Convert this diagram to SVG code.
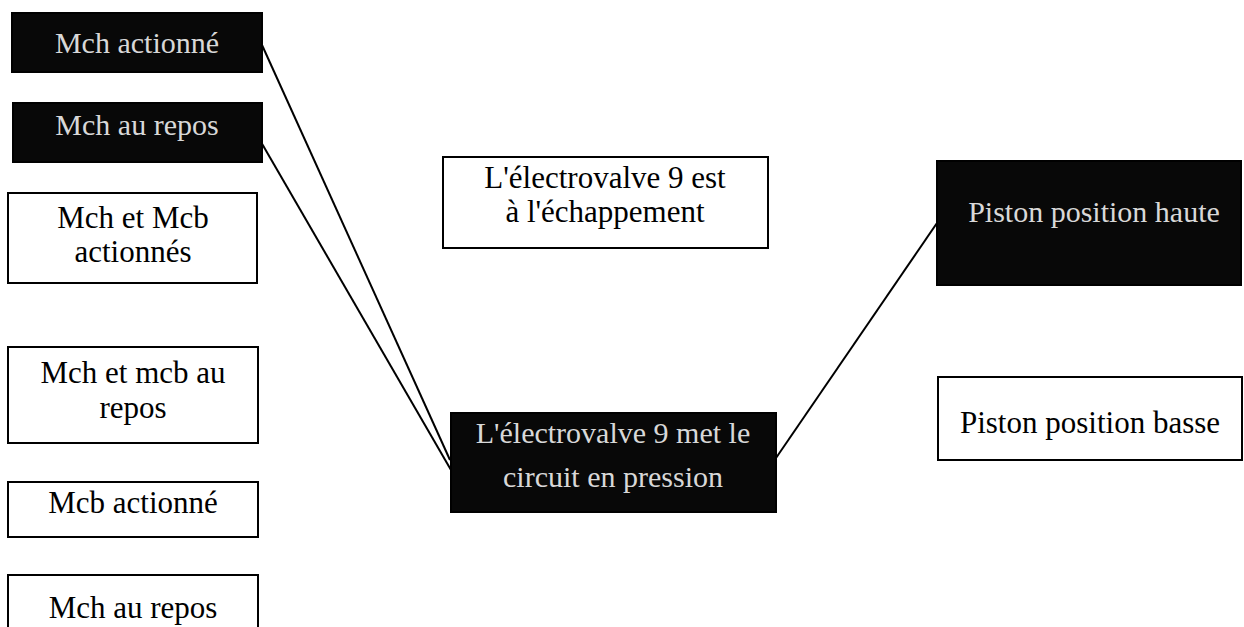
<svg xmlns="http://www.w3.org/2000/svg" width="1244" height="627" viewBox="0 0 1244 627">
<style>
.box{fill:#fff;stroke:#000;stroke-width:2}
.dark{fill:#080808;stroke:#000;stroke-width:2}
.t{font-family:"Liberation Serif","Times New Roman",serif;font-size:31px;fill:#000;text-anchor:middle}
.tw{font-family:"Liberation Serif","Times New Roman",serif;font-size:30px;fill:#d8d8d8;text-anchor:middle}
.c{stroke:#000;stroke-width:2;fill:none}
</style>
<rect width="1244" height="627" fill="#fff"/>
<g id="connectors">
<line class="c" x1="262" y1="45" x2="450" y2="460"/>
<line class="c" x1="261" y1="142" x2="451" y2="470"/>
<line class="c" x1="776" y1="458" x2="937" y2="223"/>
</g>
<g id="n1"><rect class="dark" x="12" y="13" width="250" height="59"/><text class="tw" x="137" y="53">Mch actionné</text></g>
<g id="n2"><rect class="dark" x="13" y="103" width="249" height="59"/><text class="tw" x="137" y="135">Mch au repos</text></g>
<g id="n3"><rect class="box" x="8" y="193" width="249" height="90"/><text class="t" x="133" y="228">Mch et Mcb</text><text class="t" x="133" y="262">actionnés</text></g>
<g id="n4"><rect class="box" x="8" y="347" width="250" height="96"/><text class="t" x="133" y="383">Mch et mcb au</text><text class="t" x="133" y="418">repos</text></g>
<g id="n5"><rect class="box" x="8" y="482" width="250" height="55"/><text class="t" x="133" y="513">Mcb actionné</text></g>
<g id="n6"><rect class="box" x="8" y="575" width="250" height="60"/><text class="t" x="133" y="618">Mch au repos</text></g>
<g id="n7"><rect class="box" x="443" y="157" width="325" height="91"/><text class="t" x="605" y="188">L'électrovalve 9 est</text><text class="t" x="605" y="222">à l'échappement</text></g>
<g id="n8"><rect class="dark" x="451" y="413" width="325" height="99"/><text class="tw" x="613" y="443">L'électrovalve 9 met le</text><text class="tw" x="613" y="487">circuit en pression</text></g>
<g id="n9"><rect class="dark" x="937" y="161" width="304" height="124"/><text class="tw" x="1094" y="222">Piston position haute</text></g>
<g id="n10"><rect class="box" x="938" y="377" width="304" height="83"/><text class="t" x="1090" y="433">Piston position basse</text></g>
</svg>
